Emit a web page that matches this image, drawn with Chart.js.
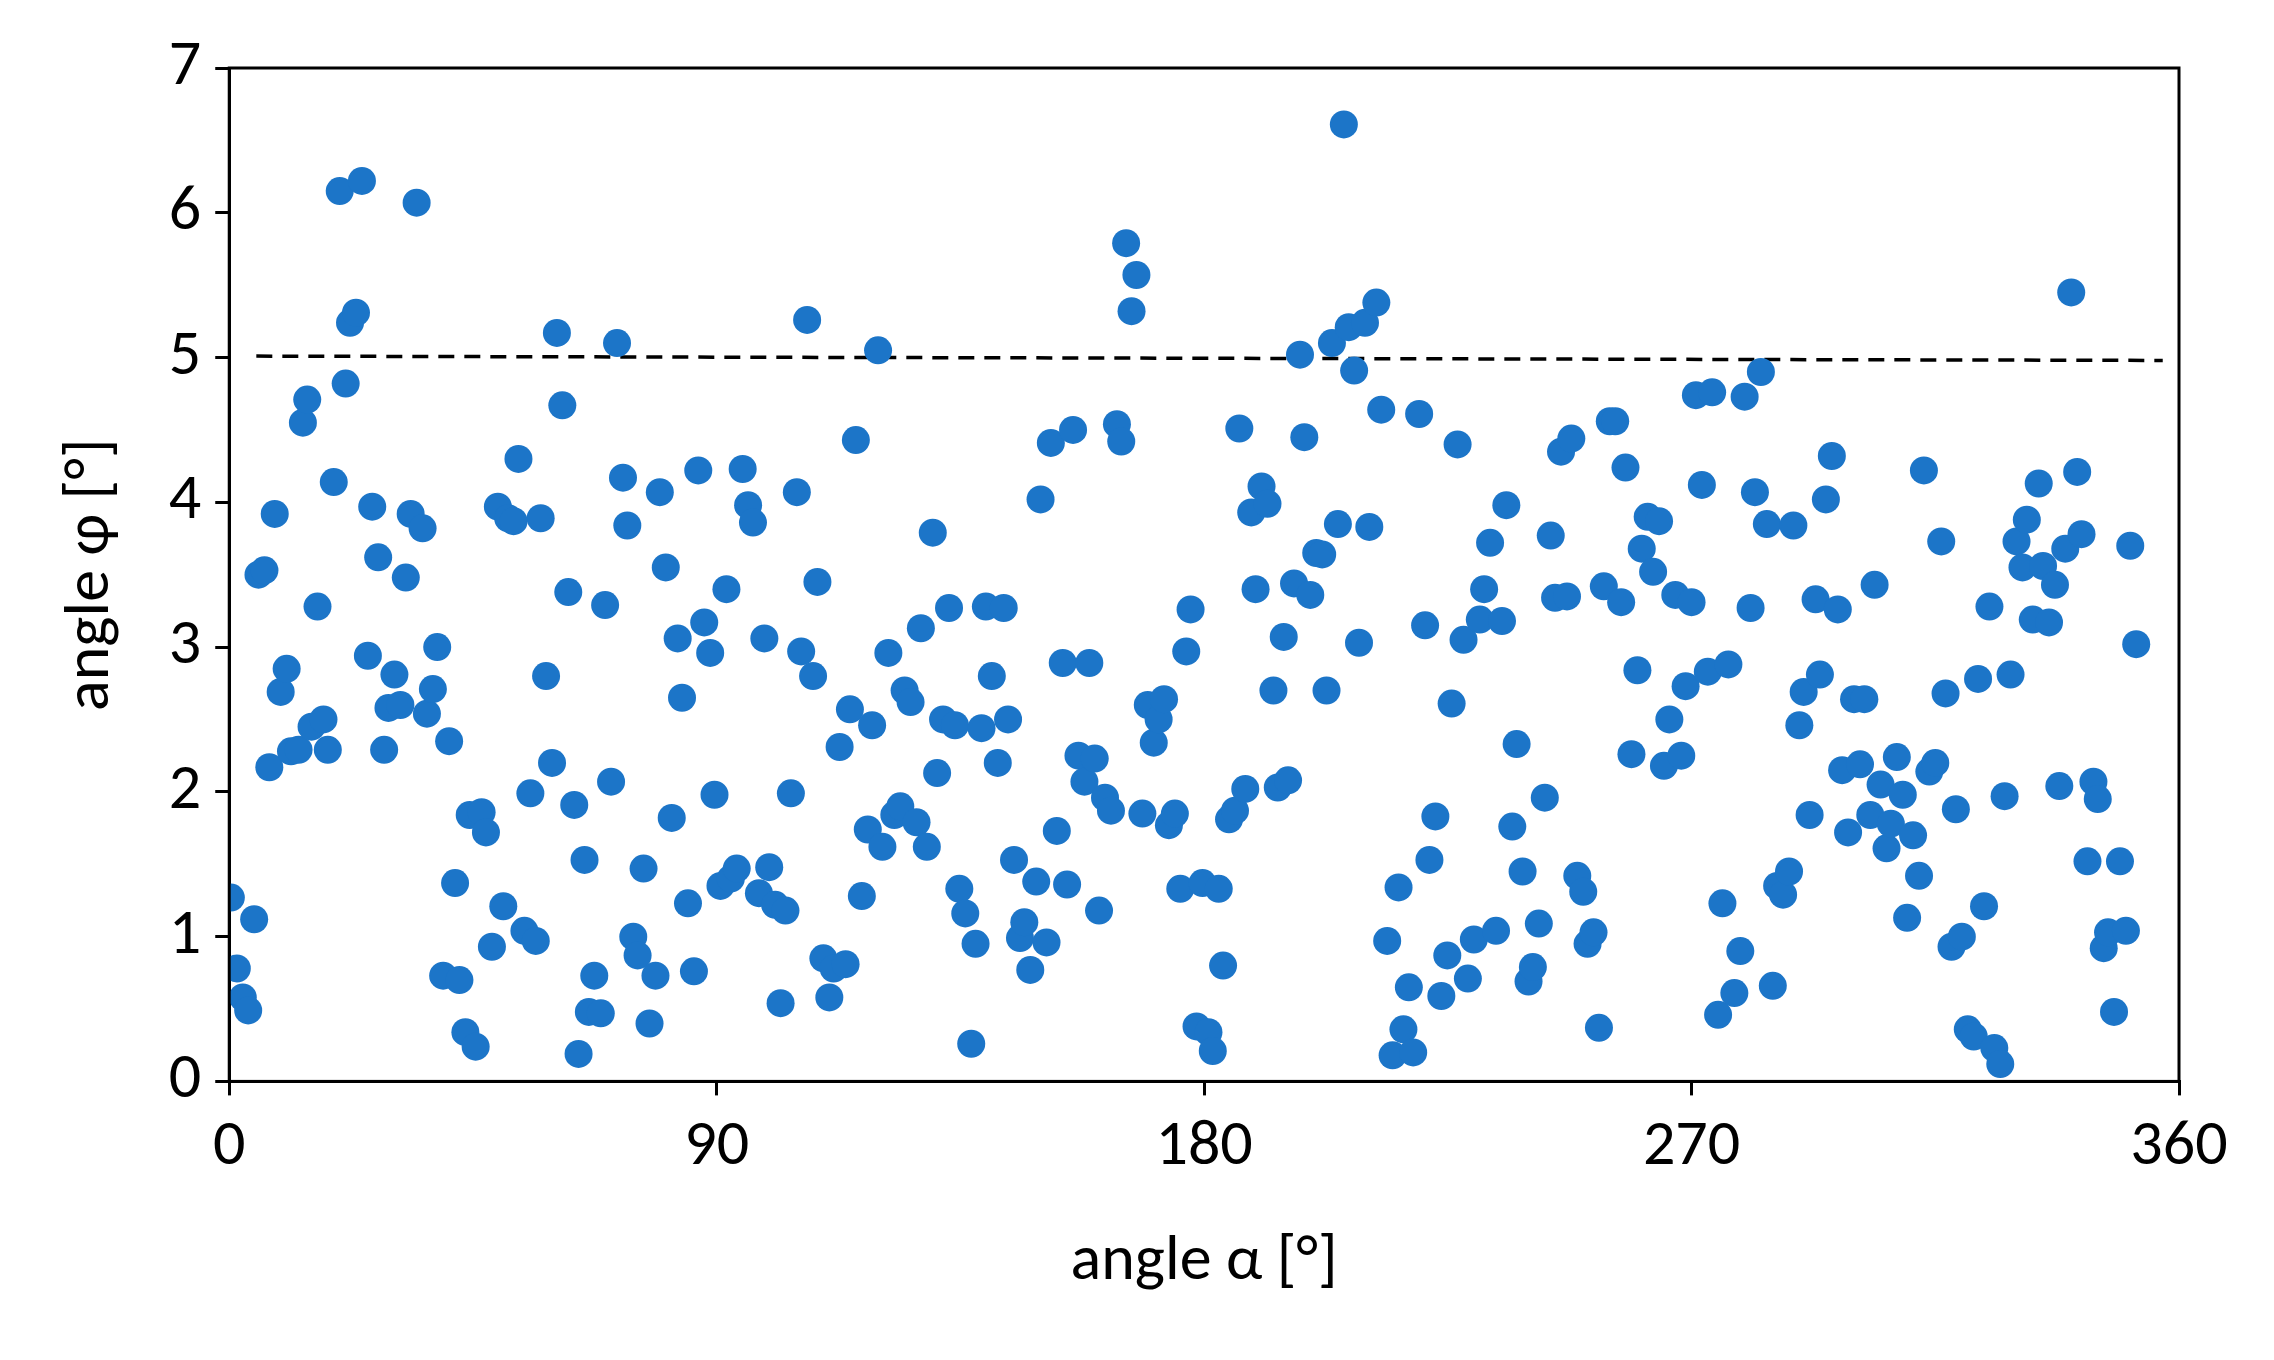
<!DOCTYPE html>
<html>
<head>
<meta charset="utf-8">
<script src="https://cdn.jsdelivr.net/npm/chart.js@4/dist/chart.umd.min.js"></script>
<style>
  html, body { margin: 0; padding: 0; background: #fff; }
  #wrap { width: 2274px; height: 1360px; }
</style>
</head>
<body>
<div id="wrap"><canvas id="chart"></canvas></div>
<script>
// angle alpha [deg] and angle phi [deg]
const alpha = [0.3,1.4,2.5,3.5,4.6,5.4,6.5,7.4,8.4,9.5,10.6,11.4,12.8,13.6,14.4,15.2,16.3,17.4,18.2,19.3,20.4,21.5,22.3,23.4,24.5,25.6,26.4,27.5,28.6,29.4,30.5,31.6,32.6,33.5,34.6,35.7,36.5,37.6,38.4,39.5,40.6,41.7,42.5,43.6,44.4,45.5,46.6,47.4,48.5,49.6,50.6,51.5,52.5,53.4,54.5,55.6,56.6,57.5,58.5,59.6,60.5,61.5,62.6,63.7,64.5,65.6,66.4,67.4,68.6,69.4,70.5,71.6,72.7,73.5,74.6,75.4,76.5,77.6,78.7,79.5,80.6,81.7,82.8,83.6,84.7,85.8,86.6,87.7,88.8,89.6,90.7,91.8,92.6,93.7,94.8,95.8,96.7,97.8,98.8,99.7,100.8,101.8,102.7,103.7,104.8,105.6,106.7,107.8,108.6,109.7,110.8,111.6,112.7,113.8,114.6,115.7,116.8,117.9,118.7,119.8,120.6,121.7,122.8,123.9,124.7,125.8,126.9,127.7,128.8,129.9,130.7,131.8,132.9,134.0,134.8,135.9,137.0,137.8,138.9,139.7,140.8,141.9,143.0,143.8,144.9,146.0,146.8,147.9,149.0,149.8,150.9,151.7,152.8,153.9,154.7,155.8,156.8,157.9,158.8,159.8,160.6,161.7,162.8,163.9,164.7,165.6,166.6,167.5,168.6,169.6,170.7,171.6,172.6,173.5,174.6,175.6,176.7,177.5,178.6,179.7,180.8,181.6,182.7,183.5,184.6,185.7,186.5,187.6,188.7,189.5,190.6,191.7,192.8,193.6,194.7,195.5,196.6,197.7,198.5,199.6,200.7,201.8,202.6,203.6,204.7,205.8,206.7,207.7,208.6,209.7,210.5,211.8,212.7,213.8,214.8,215.9,216.8,217.8,218.6,219.7,220.8,221.6,222.7,223.8,224.9,225.7,226.8,227.9,228.7,229.8,230.9,231.7,232.8,233.9,235.0,235.8,236.9,237.7,238.8,239.9,240.7,241.8,242.9,244.0,244.8,245.9,247.0,247.8,248.9,250.0,250.8,251.9,252.9,253.8,254.9,255.9,257.0,257.8,258.9,260.0,260.8,261.9,262.9,264.0,264.9,265.9,267.0,268.1,268.9,270.0,270.8,271.9,273.0,273.8,274.9,275.7,276.8,277.9,279.0,279.8,280.9,281.7,282.8,283.9,285.0,285.8,286.9,288.0,288.8,289.9,290.7,291.8,292.9,293.7,294.8,295.9,297.0,297.8,298.9,300.0,301.1,301.9,303.0,303.8,304.9,306.0,306.8,307.9,309.0,309.8,310.9,312.0,312.9,313.9,315.0,316.1,316.9,318.0,318.8,319.9,321.0,322.1,322.9,324.0,325.0,325.9,327.0,327.8,328.9,330.0,331.1,331.9,333.0,334.1,334.9,336.0,337.1,337.9,339.0,340.1,341.2,342.0,343.1,344.2,345.0,346.1,346.9,348.0,349.1,350.2,351.0,352.1];
const phi = [1.27,0.78,0.58,0.49,1.12,3.5,3.53,2.17,3.92,2.69,2.85,2.28,2.29,4.55,4.71,2.45,3.28,2.5,2.29,4.14,6.15,4.82,5.24,5.31,6.22,2.94,3.97,3.62,2.29,2.58,2.81,2.6,3.48,3.92,6.07,3.82,2.54,2.71,3.0,0.73,2.35,1.37,0.7,0.34,1.84,0.24,1.86,1.72,0.93,3.97,1.21,3.89,3.87,4.3,1.04,1.99,0.97,3.89,2.8,2.2,5.17,4.67,3.38,1.91,0.19,1.53,0.48,0.73,0.47,3.29,2.07,5.1,4.17,3.84,1.0,0.87,1.47,0.4,0.73,4.07,3.55,1.82,3.06,2.65,1.23,0.76,4.22,3.17,2.96,1.98,1.35,3.4,1.4,1.47,4.23,3.98,3.86,1.3,3.06,1.48,1.22,0.54,1.18,1.99,4.07,2.97,5.26,2.8,3.45,0.85,0.58,0.78,2.31,0.81,2.57,4.43,1.28,1.74,2.46,5.05,1.62,2.96,1.84,1.9,2.7,2.62,1.79,3.13,1.62,3.79,2.13,2.5,3.27,2.46,1.33,1.16,0.26,0.95,2.44,3.28,2.8,2.2,3.27,2.5,1.53,0.99,1.1,0.77,1.38,4.02,0.96,4.41,1.73,2.89,1.36,4.5,2.25,2.07,2.89,2.23,1.18,1.96,1.87,4.54,4.42,5.79,5.32,5.57,1.85,2.6,2.34,2.5,2.64,1.77,1.85,1.33,2.97,3.26,0.38,1.37,0.34,0.21,1.33,0.8,1.81,1.87,4.51,2.02,3.93,3.4,4.11,3.99,2.7,2.03,3.07,2.08,3.44,5.02,4.45,3.36,3.65,3.64,2.7,5.1,3.85,6.61,5.21,4.91,3.03,5.24,3.83,5.38,4.64,0.97,0.18,1.34,0.36,0.65,0.2,4.61,3.15,1.53,1.83,0.59,0.87,2.61,4.4,3.05,0.71,0.98,3.19,3.4,3.72,1.04,3.18,3.98,1.76,2.33,1.45,0.69,0.79,1.09,1.96,3.77,3.34,4.35,3.35,4.44,1.42,1.31,0.95,1.03,0.37,3.42,4.56,4.56,3.31,4.24,2.26,2.84,3.68,3.9,3.52,3.87,2.18,2.5,3.36,2.25,2.73,3.31,4.74,4.12,2.83,4.76,0.46,1.23,2.88,0.61,0.9,4.73,3.27,4.07,4.9,3.85,0.66,1.35,1.29,1.45,3.84,2.46,2.69,1.84,3.33,2.81,4.02,4.32,3.26,2.15,1.72,2.64,2.19,2.64,1.84,3.43,2.05,1.61,1.78,2.24,1.98,1.13,1.7,1.42,4.22,2.14,2.2,3.73,2.68,0.93,1.88,1.0,0.36,0.31,2.78,1.21,3.28,0.23,0.12,1.97,2.81,3.73,3.55,3.88,3.19,4.13,3.56,3.17,3.43,2.04,3.68,5.45,4.21,3.78,1.52,2.07,1.95,0.92,1.03,0.48,1.52,1.04,3.7,3.02];
const limitX = [5, 357];
const limitY = [5.01, 4.98];
const xTicks = [0, 90, 180, 270, 360];

const FONT = 'Calibri, Carlito, "Open Sans", "Noto Sans", sans-serif';

const frame = {
  id: 'frame',
  afterDraw(chart) {
    const a = chart.chartArea, c = chart.ctx;
    c.save();
    c.strokeStyle = '#000';
    c.lineWidth = 3;
    c.strokeRect(a.left, a.top, a.right - a.left, a.bottom - a.top);
    c.restore();
  }
};

new Chart(document.getElementById('chart'), {
  type: 'scatter',
  data: {
    datasets: [
      {
        data: alpha.map((x, i) => ({ x: x, y: phi[i] })),
        backgroundColor: 'rgb(28,117,200)',
        borderWidth: 0,
        pointRadius: 14,
        pointHoverRadius: 14
      },
      {
        type: 'line',
        data: limitX.map((x, i) => ({ x: x, y: limitY[i] })),
        borderColor: '#000',
        borderWidth: 3.5,
        borderDash: [16, 10],
        pointRadius: 0,
        fill: false
      }
    ]
  },
  options: {
    responsive: true,
    maintainAspectRatio: false,
    animation: false,
    layout: { padding: { top: 68, right: 95, bottom: 55, left: 50 } },
    plugins: { legend: { display: false }, tooltip: { enabled: false } },
    scales: {
      x: {
        type: 'linear', min: 0, max: 360,
        afterBuildTicks: axis => { axis.ticks = xTicks.map(v => ({ value: v })); },
        grid: { drawOnChartArea: false, color: '#000', lineWidth: 3, tickLength: 14 },
        border: { color: '#000', width: 3 },
        ticks: { color: '#000', font: { family: FONT, size: 64 }, padding: 14, maxRotation: 0 },
        title: { display: true, text: 'angle α [°]', color: '#000', font: { family: FONT, size: 64 }, padding: { top: 24 } }
      },
      y: {
        min: 0, max: 7,
        grid: { drawOnChartArea: false, color: '#000', lineWidth: 3, tickLength: 14 },
        border: { color: '#000', width: 3 },
        ticks: { stepSize: 1, color: '#000', font: { family: FONT, size: 64 }, padding: 14 },
        title: { display: true, text: 'angle φ [°]', color: '#000', font: { family: FONT, size: 64 }, padding: { bottom: 24 } }
      }
    }
  },
  plugins: [frame]
});
</script>
</body>
</html>
